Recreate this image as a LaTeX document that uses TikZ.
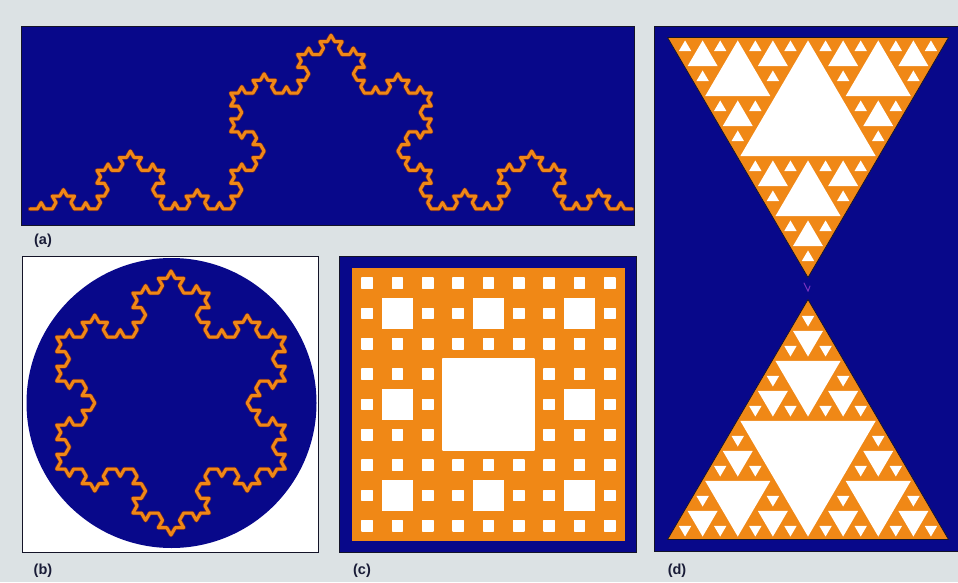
\documentclass[tikz,border=0pt]{standalone}
\usepackage{fontspec}
\setmainfont{Liberation Sans}
\usetikzlibrary{lindenmayersystems}
\definecolor{bgc}{RGB}{220,226,228}
\definecolor{navy}{RGB}{8,8,138}
\definecolor{orng}{RGB}{240,136,22}
\definecolor{edgec}{RGB}{20,20,40}
\definecolor{kochedge}{RGB}{110,40,50}
\definecolor{labc}{RGB}{25,28,55}
\definecolor{markc}{RGB}{120,50,190}
\pgfdeclarelindenmayersystem{Koch}{\rule{F -> F+F--F+F}}

\tikzset{
 panel/.style={fill=navy, draw=edgec, line width=0.8pt},
 kochout/.style={draw=kochedge, line width=4.4pt, line join=round, line cap=round},
 kochin/.style={draw=orng, line width=3pt, line join=round, line cap=round},
 hole/.style={fill=white, draw=white, line width=1.3pt, line join=round},
 trihole/.style={fill=white},
 tri/.style={fill=orng, draw=edgec, line width=0.7pt, line join=round},
 lab/.style={font=\bfseries\fontsize{14.5}{15}\selectfont, text=labc, inner sep=0pt},
}

% holes of a level-4 Sierpinski triangle, base from (0,0) to (#1,0), height #2
\newcommand\sierpholes[2]{%
 \foreach \n in {1,2,4,8}{%
   \pgfmathsetmacro\sT{#1/\n}%
   \pgfmathsetmacro\sH{#2/\n}%
   \pgfmathsetmacro\sK{1-1.5/(0.1443*\sT)}%
   \pgfmathtruncatemacro\nm{\n-1}%
   \foreach \i in {0,...,\nm}{%
     \pgfmathtruncatemacro\mm{\nm-\i}%
     \foreach \j in {0,...,\mm}{%
       \pgfmathsetmacro\cx{(\i+\j/2)*\sT+\sT/2}%
       \pgfmathsetmacro\cy{\j*\sH+\sH/3}%
       \path[trihole] (\cx,{\cy-\sK*\sH/3}) -- ({\cx-\sK*\sT/4},{\cy+\sK*\sH/6}) -- ({\cx+\sK*\sT/4},{\cy+\sK*\sH/6}) -- cycle;
     }%
   }%
 }%
}

\begin{document}
\begin{tikzpicture}[x=1pt,y=1pt]
\useasboundingbox (0,0) rectangle (958,582);
\fill[bgc] (0,0) rectangle (958,582);

% panel (a)
\path[panel] (21,357) rectangle (634,556);
\begin{scope}[shift={(30,373)}]
 \draw[kochout, lindenmayer system={Koch, axiom=F, order=4, angle=60, step=7.4321pt}] (0,0) lindenmayer system;
 \draw[kochin, lindenmayer system={Koch, axiom=F, order=4, angle=60, step=7.4321pt}] (0,0) lindenmayer system;
\end{scope}
\node[lab] (la) at (43,341) {(a)};

% panel (b)
\path[fill=white, draw=edgec, line width=0.8pt] (22,30) rectangle (318,326);
\fill[navy] (171.5,179) circle (145);
\begin{scope}[shift={(171,311)}]
 \draw[kochout, lindenmayer system={Koch, axiom=-F--F--F, order=3, angle=60, step=8.468pt}] (0,0) lindenmayer system -- cycle;
 \draw[kochin, lindenmayer system={Koch, axiom=-F--F--F, order=3, angle=60, step=8.468pt}] (0,0) lindenmayer system -- cycle;
\end{scope}
\node[lab] (lb) at (43,11) {(b)};

% panel (c)
\path[panel] (339,30) rectangle (636,326);
\fill[orng] (352,41) rectangle ++(273,273);
\foreach \c in {0,...,8}{\foreach \d in {0,...,8}{
  \path[hole] ({352+\c*30.333+10.111},{41+\d*30.333+10.111}) rectangle ++(10.111,10.111);}}
\foreach \a in {0,1,2}{\foreach \b in {0,1,2}{
  \path[hole] ({352+\a*91+30.333},{41+\b*91+30.333}) rectangle ++(30.333,30.333);}}
\path[hole] (443,132) rectangle ++(91,91);
\node[lab] (lc) at (362,11) {(c)};

% panel (d)
\path[panel] (654,31) rectangle (962,556);
\begin{scope}[shift={(667.5,544.5)}, yscale=-1]
 \path[tri] (0,0) -- (281,0) -- (140.5,240) -- cycle;
 \sierpholes{281}{240}
\end{scope}
\begin{scope}[shift={(667.5,42.5)}]
 \path[tri] (0,0) -- (281,0) -- (140.5,240) -- cycle;
 \sierpholes{281}{240}
\end{scope}
\draw[markc, line width=1pt, line cap=round] (804,299) -- (808,291) -- (810,296);
\node[lab] (ld) at (677,11) {(d)};
\end{tikzpicture}
\end{document}
